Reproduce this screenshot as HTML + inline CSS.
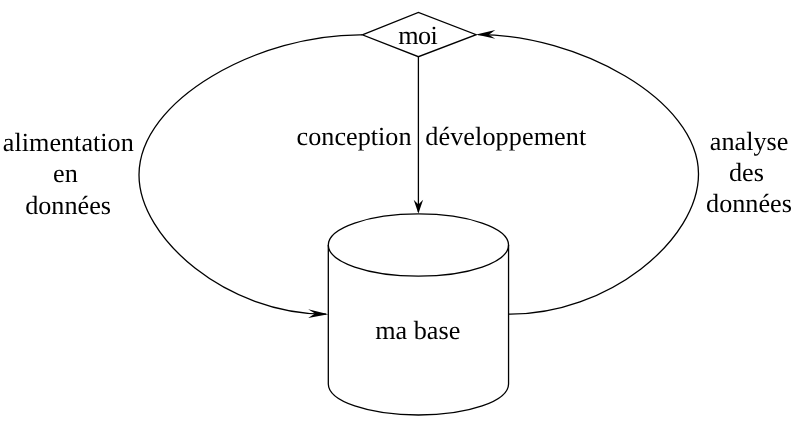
<!DOCTYPE html>
<html lang="fr">
<head>
<meta charset="utf-8">
<title>ma base</title>
<style>
html,body{margin:0;padding:0;background:#fff;}
body{width:800px;height:424px;overflow:hidden;}
svg{display:block;will-change:transform;}
text{font-family:"Liberation Serif",serif;font-size:26.2px;fill:#000;text-rendering:geometricPrecision;}
.ln{fill:none;stroke:#000;stroke-width:1.3;stroke-linejoin:miter;}
</style>
</head>
<body>
<svg width="800" height="424" viewBox="0 0 800 424">
<rect width="800" height="424" fill="#fff"/>
<!-- diamond -->
<path class="ln" d="M362.3 34.8 L418.4 12.4 L476.2 34.7 L418.4 56.7 Z"/>
<!-- vertical line -->
<path class="ln" d="M418.4 56.7 L418.4 212"/>
<path d="M418.4 213.4 L413.7 199.7 L418.4 204.6 L423.1 199.7 Z" fill="#000"/>
<!-- left curve -->
<path class="ln" d="M362.3 34.8 C259.2 33.7 139.0 99.6 139.0 175.0 C139.0 238.1 226.7 314.2 326 314.1"/>
<path d="M328.3 314.2 L308.2 309.15 L315 313.5 L308.2 317.95 Z" fill="#000"/>
<!-- right curve -->
<path class="ln" d="M478 34.7 C576.3 34.0 698.5 99.1 698.5 174.0 C698.5 240.0 607.6 315.1 508.5 314.2"/>
<path d="M476.2 34.6 L495.3 30.0 L488.8 34.85 L495.3 38.7 Z" fill="#000"/>
<!-- cylinder -->
<ellipse class="ln" cx="418.43" cy="245.05" rx="90.12" ry="31.1"/>
<path class="ln" d="M328.31 245 L328.31 383.9 A90.12 31.1 0 0 0 508.55 383.9 L508.55 245"/>
<!-- labels -->
<text x="398.2" y="44" style="letter-spacing:-0.55px">moi</text>
<text x="296.6" y="145">conception</text>
<text x="425.3" y="145" style="letter-spacing:0.08px">développement</text>
<text x="375.2" y="339">ma base</text>
<text x="68.3" y="151" text-anchor="middle">alimentation</text>
<text x="65.4" y="182" text-anchor="middle">en</text>
<text x="68.1" y="214" text-anchor="middle">données</text>
<text x="749.1" y="150" text-anchor="middle">analyse</text>
<text x="746.4" y="181" text-anchor="middle">des</text>
<text x="749.0" y="212" text-anchor="middle">données</text>
</svg>
</body>
</html>
